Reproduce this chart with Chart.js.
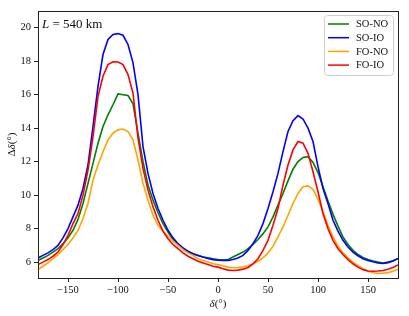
<!DOCTYPE html>
<html>
<head>
<meta charset="utf-8">
<script src="https://cdn.jsdelivr.net/npm/chart.js@4"></script>
<style>
html, body { margin: 0; padding: 0; background: #fff; }
</style>
</head>
<body>
<canvas id="deltaChart" width="409" height="316"></canvas>
<script>
// delta angle (deg)
var delta = [-180, -175, -170, -165, -160, -155, -150, -145, -140, -135, -130, -125, -120, -115, -110, -105,
	-100, -95, -90, -85, -80, -75, -70, -65, -60, -55, -50, -45, -40, -35, -30, -25, -20, -15, -10, -5,
	0, 5, 10, 15, 20, 25, 30, 35, 40, 45, 50, 55, 60, 65, 70, 75, 80, 85, 90, 95,
	100, 105, 110, 115, 120, 125, 130, 135, 140, 145, 150, 155, 160, 165, 170, 175, 180];

var soNO = [6.1, 6.25, 6.4, 6.6, 6.8, 7.1, 7.45, 7.9, 8.55, 9.5, 10.7, 11.9, 13.1, 14.1, 14.8, 15.4,
	16.05, 16.0, 15.95, 15.45, 13.7, 12.0, 10.6, 9.7, 8.95, 8.3, 7.8, 7.35, 7.05, 6.8, 6.6, 6.5, 6.4, 6.3, 6.25, 6.2,
	6.15, 6.12, 6.15, 6.3, 6.45, 6.6, 6.8, 7.05, 7.35, 7.7, 8.1, 8.7, 9.4, 10.1, 10.85, 11.55, 12.0, 12.25, 12.3, 11.95,
	11.35, 10.5, 9.65, 8.85, 8.15, 7.5, 7.05, 6.7, 6.45, 6.28, 6.15, 6.06, 6.0, 5.95, 6.0, 6.08, 6.2];

var soIO = [6.25, 6.4, 6.55, 6.75, 7.0, 7.45, 8.0, 8.7, 9.4, 10.4, 11.8, 14.1, 16.5, 18.4, 19.3, 19.6,
	19.65, 19.55, 19.0, 17.9, 16.0, 12.9, 11.3, 10.1, 9.2, 8.5, 7.9, 7.45, 7.1, 6.85, 6.65, 6.5, 6.4, 6.3, 6.22, 6.15,
	6.12, 6.1, 6.1, 6.15, 6.25, 6.4, 6.7, 7.1, 7.6, 8.3, 9.2, 10.2, 11.3, 12.6, 13.8, 14.45, 14.75, 14.55, 14.0, 13.2,
	11.7, 10.4, 9.5, 8.5, 7.85, 7.3, 6.9, 6.6, 6.38, 6.2, 6.1, 6.02, 5.95, 5.92, 5.97, 6.07, 6.22];

var foNO = [5.55, 5.75, 5.95, 6.2, 6.45, 6.75, 7.05, 7.45, 7.9, 8.6, 9.5, 10.9, 11.8, 12.6, 13.3, 13.7,
	13.9, 13.95, 13.8, 13.3, 12.1, 10.7, 9.7, 8.8, 8.2, 7.85, 7.55, 7.25, 7.0, 6.75, 6.55, 6.4, 6.2, 6.1, 6.0, 5.9,
	5.85, 5.78, 5.7, 5.66, 5.68, 5.72, 5.78, 5.9, 6.05, 6.25, 6.55, 6.95, 7.5, 8.1, 8.8, 9.5, 10.1, 10.5, 10.55, 10.35,
	9.75, 9.0, 8.2, 7.5, 6.95, 6.55, 6.25, 6.0, 5.8, 5.6, 5.45, 5.36, 5.32, 5.33, 5.37, 5.45, 5.58];

var foIO = [5.85, 6.0, 6.15, 6.35, 6.6, 7.05, 7.6, 8.3, 8.9, 10.0, 11.5, 13.5, 15.9, 17.1, 17.8, 17.97,
	17.95, 17.8, 17.2, 16.1, 13.4, 11.6, 10.3, 9.3, 8.5, 7.85, 7.4, 7.05, 6.8, 6.55, 6.35, 6.2, 6.05, 5.95, 5.85, 5.75,
	5.7, 5.6, 5.52, 5.5, 5.52, 5.58, 5.68, 5.9, 6.2, 6.7, 7.3, 8.2, 9.2, 10.6, 11.8, 12.7, 13.2, 13.1, 12.5, 11.4,
	10.2, 8.9, 8.0, 7.3, 6.8, 6.45, 6.15, 5.9, 5.7, 5.55, 5.47, 5.45, 5.47, 5.5, 5.57, 5.68, 5.83];

var xTicks = [-150, -100, -50, 0, 50, 100, 150];
var yTicks = [6, 8, 10, 12, 14, 16, 18, 20];

var serif = "'Liberation Serif', 'DejaVu Serif', serif";

function points(vals) {
	return vals.map(function (v, i) { return { x: delta[i], y: v }; });
}

function minus(v) {
	return String(v).replace('-', '\u2212');
}

// frame, annotation, axis labels and legend
var extras = {
	id: 'extras',
	afterDraw: function (chart) {
		var ctx = chart.ctx;
		var a = chart.chartArea;
		ctx.save();

		ctx.strokeStyle = '#222';
		ctx.lineWidth = 1;
		ctx.strokeRect(Math.round(a.left) + 0.5, Math.round(a.top) + 0.5,
			Math.round(a.right - a.left), Math.round(a.bottom - a.top));

		ctx.fillStyle = '#111';
		ctx.textBaseline = 'alphabetic';
		ctx.textAlign = 'left';
		// L = 540 km
		ctx.font = 'italic 13px ' + serif;
		ctx.fillText('L', 42, 28);
		var w = ctx.measureText('L').width;
		ctx.font = '13px ' + serif;
		ctx.fillText(' = 540 km', 42 + w, 28);

		// x label
		ctx.font = 'italic 11px ' + serif;
		var w1 = ctx.measureText('δ').width;
		ctx.font = '11px ' + serif;
		var w2 = ctx.measureText('(°)').width;
		var xs = (a.left + a.right) / 2 - (w1 + w2) / 2;
		ctx.font = 'italic 11px ' + serif;
		ctx.fillText('δ', xs, 307);
		ctx.font = '11px ' + serif;
		ctx.fillText('(°)', xs + w1, 307);

		// y label
		ctx.translate(15, (a.top + a.bottom) / 2);
		ctx.rotate(-Math.PI / 2);
		ctx.font = '11px ' + serif;
		var d1 = ctx.measureText('Δ').width;
		var d3 = ctx.measureText('(°)').width;
		ctx.font = 'italic 11px ' + serif;
		var d2 = ctx.measureText('δ').width;
		var s = -(d1 + d2 + d3) / 2;
		ctx.font = '11px ' + serif;
		ctx.fillText('Δ', s, 0);
		ctx.font = 'italic 11px ' + serif;
		ctx.fillText('δ', s + d1, 0);
		ctx.font = '11px ' + serif;
		ctx.fillText('(°)', s + d1 + d2, 0);
		ctx.setTransform(1, 0, 0, 1, 0, 0);

		// legend
		var lx = 324, ly = 15.5, lw = 69, lh = 60;
		ctx.beginPath();
		ctx.roundRect(lx + 0.5, ly, lw, lh, 3);
		ctx.fillStyle = 'rgba(255,255,255,0.8)';
		ctx.fill();
		ctx.strokeStyle = '#d0d0d0';
		ctx.lineWidth = 1;
		ctx.stroke();
		ctx.font = '10.5px ' + serif;
		ctx.textBaseline = 'middle';
		chart.data.datasets.forEach(function (ds, i) {
			var y = 24 + i * 13.7;
			ctx.strokeStyle = ds.borderColor;
			ctx.lineWidth = 1.5;
			ctx.beginPath();
			ctx.moveTo(328, y);
			ctx.lineTo(349, y);
			ctx.stroke();
			ctx.fillStyle = '#111';
			ctx.fillText(ds.label, 356, y + 0.5);
		});
		ctx.restore();
	}
};

var ctx = document.getElementById('deltaChart').getContext('2d');

var deltaChart = new Chart(ctx, {
	type: 'line',
	data: {
		datasets: [{
				label: 'SO-NO',
				data: points(soNO),
				borderColor: '#008000',
				order: 4
			},
			{
				label: 'SO-IO',
				data: points(soIO),
				borderColor: '#0000ff',
				order: 3
			},
			{
				label: 'FO-NO',
				data: points(foNO),
				borderColor: '#ffa500',
				order: 2
			},
			{
				label: 'FO-IO',
				data: points(foIO),
				borderColor: '#ff0000',
				order: 1
			}
		]
	},
	options: {
		responsive: false,
		animation: false,
		layout: {
			padding: { left: 0, top: 11, right: 11, bottom: 0 }
		},
		elements: {
			point: { radius: 0 },
			line: { borderWidth: 1.6, tension: 0, fill: false }
		},
		plugins: {
			legend: { display: false },
			tooltip: { enabled: false }
		},
		scales: {
			x: {
				type: 'linear',
				min: -180,
				max: 180,
				afterFit: function (scale) { scale.height = 38; },
				afterBuildTicks: function (scale) {
					scale.ticks = xTicks.map(function (v) { return { value: v }; });
				},
				border: { display: false },
				grid: { drawOnChartArea: false, tickLength: 4, color: '#222' },
				ticks: {
					padding: 2,
					maxRotation: 0,
					color: '#111',
					font: { family: serif, size: 10.5 },
					callback: minus
				}
			},
			y: {
				min: 5.05,
				max: 21,
				afterFit: function (scale) { scale.width = 38; },
				afterBuildTicks: function (scale) {
					scale.ticks = yTicks.map(function (v) { return { value: v }; });
				},
				border: { display: false },
				grid: { drawOnChartArea: false, tickLength: 4, color: '#222' },
				ticks: {
					padding: 3,
					color: '#111',
					font: { family: serif, size: 10.5 },
					callback: minus
				}
			}
		}
	},
	plugins: [extras]
});
</script>
</body>
</html>
